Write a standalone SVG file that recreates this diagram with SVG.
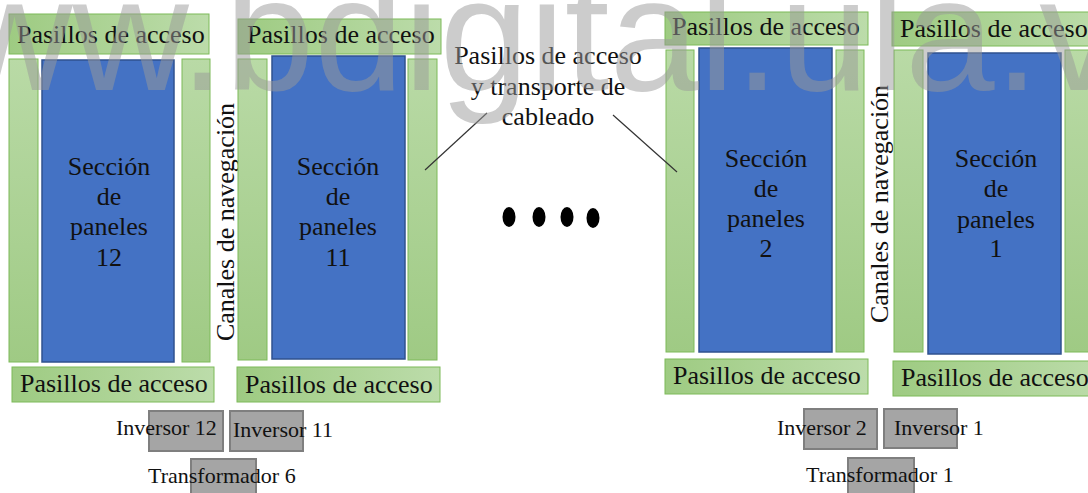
<svg xmlns="http://www.w3.org/2000/svg" width="1088" height="493" viewBox="0 0 1088 493">
<style>
.t{font-family:"Liberation Serif","Times New Roman",serif;font-size:26px;fill:#111}
.s{font-family:"Liberation Serif","Times New Roman",serif;font-size:22px;fill:#111}
.box{fill:url(#gh);stroke:#7dba58;stroke-width:1}
.strip{fill:url(#gv);stroke:#7dba58;stroke-width:1}
.panel{fill:#4472c4;stroke:#2f528f;stroke-width:1.5}
.inv{fill:#a5a5a5;stroke:#7f7f7f;stroke-width:2}
.ln{stroke:#333;stroke-width:1.2;fill:none}
.wm{font-family:"Liberation Sans",Arial,sans-serif;font-size:161px;fill:#9a9a9a;opacity:0.5}
</style>
<defs>
<linearGradient id="gh" x1="0" y1="0" x2="1" y2="0">
<stop offset="0" stop-color="#9ecb82"/>
<stop offset="1" stop-color="#bcdcaa"/>
</linearGradient>
<linearGradient id="gv" x1="0" y1="0" x2="0" y2="1">
<stop offset="0" stop-color="#b9daa6"/>
<stop offset="1" stop-color="#9fca84"/>
</linearGradient>
</defs>

<g id="seccion12">
<rect class="box" x="9" y="14" width="200" height="40"/>
<text class="t" x="17" y="43">Pasillos de acceso</text>
<rect class="strip" x="9" y="59" width="29" height="303"/>
<rect class="panel" x="42" y="60" width="132" height="302"/>
<rect class="strip" x="182" y="59" width="28" height="303"/>
<text class="t" text-anchor="middle"><tspan x="109" y="175">Sección</tspan><tspan x="109" y="205">de</tspan><tspan x="109" y="235">paneles</tspan><tspan x="109" y="266">12</tspan></text>
<rect class="box" x="12" y="367" width="202" height="35"/>
<text class="t" x="20" y="392">Pasillos de acceso</text>
</g>

<g id="canal1">
<text class="t" text-anchor="middle" transform="translate(234,222) rotate(-90)">Canales de navegación</text>
</g>

<g id="seccion11">
<rect class="box" x="238" y="19" width="203" height="35"/>
<text class="t" x="247" y="43">Pasillos de acceso</text>
<rect class="strip" x="238" y="59" width="29" height="301"/>
<rect class="panel" x="272" y="56" width="133" height="303"/>
<rect class="strip" x="408" y="59" width="29" height="301"/>
<text class="t" text-anchor="middle"><tspan x="338" y="175">Sección</tspan><tspan x="338" y="205">de</tspan><tspan x="338" y="235">paneles</tspan><tspan x="338" y="266">11</tspan></text>
<rect class="box" x="237" y="367" width="203" height="35"/>
<text class="t" x="245" y="393">Pasillos de acceso</text>
</g>

<g id="pasillos-centro">
<text class="t" text-anchor="middle"><tspan x="548" y="64">Pasillos de acceso</tspan><tspan x="548" y="95">y transporte de</tspan><tspan x="548" y="125">cableado</tspan></text>
</g>

<g id="puntos">
<ellipse cx="509" cy="217" rx="6.5" ry="10" fill="#000"/>
<ellipse cx="539" cy="217" rx="6.5" ry="10" fill="#000"/>
<ellipse cx="567" cy="217" rx="6.5" ry="10" fill="#000"/>
<ellipse cx="593" cy="218" rx="6.5" ry="10" fill="#000"/>
</g>

<g id="seccion2">
<rect class="box" x="665" y="12" width="203" height="33"/>
<text class="t" x="672" y="35">Pasillos de acceso</text>
<rect class="strip" x="666" y="50" width="28" height="302"/>
<rect class="panel" x="699" y="48" width="133" height="304"/>
<rect class="strip" x="836" y="50" width="28" height="302"/>
<text class="t" text-anchor="middle"><tspan x="766" y="167">Sección</tspan><tspan x="766" y="197">de</tspan><tspan x="766" y="227">paneles</tspan><tspan x="766" y="257">2</tspan></text>
<rect class="box" x="665" y="359" width="203" height="35"/>
<text class="t" x="673" y="384">Pasillos de acceso</text>
</g>

<g id="canal2">
<text class="t" text-anchor="middle" transform="translate(888,204) rotate(-90)">Canales de navegación</text>
</g>

<g id="seccion1">
<rect class="box" x="892" y="12" width="210" height="34"/>
<text class="t" x="900" y="37">Pasillos de acceso</text>
<rect class="strip" x="894" y="50" width="29" height="302"/>
<rect class="panel" x="928" y="53" width="133" height="301"/>
<rect class="strip" x="1065" y="50" width="29" height="302"/>
<text class="t" text-anchor="middle"><tspan x="996" y="167">Sección</tspan><tspan x="996" y="197">de</tspan><tspan x="996" y="228">paneles</tspan><tspan x="996" y="257">1</tspan></text>
<rect class="box" x="893" y="361" width="210" height="35"/>
<text class="t" x="901" y="386">Pasillos de acceso</text>
</g>

<g id="inversor12">
<rect class="inv" x="149" y="411" width="74" height="40"/>
<text class="s" x="116" y="435">Inversor 12</text>
</g>
<g id="inversor11">
<rect class="inv" x="230" y="411" width="73" height="40"/>
<text class="s" x="233" y="437">Inversor 11</text>
</g>
<g id="transformador6">
<rect class="inv" x="191" y="459" width="65" height="40"/>
<text class="s" x="148" y="483">Transformador 6</text>
</g>
<g id="inversor2">
<rect class="inv" x="804" y="409" width="73" height="40"/>
<text class="s" x="777" y="435">Inversor 2</text>
</g>
<g id="inversor1">
<rect class="inv" x="884" y="409" width="73" height="39"/>
<text class="s" x="894" y="435">Inversor 1</text>
</g>
<g id="transformador1">
<rect class="inv" x="848" y="458" width="66" height="40"/>
<text class="s" x="806" y="482">Transformador 1</text>
</g>

<g id="connectors">
<line class="ln" x1="487" y1="113" x2="425" y2="170"/>
<line class="ln" x1="613" y1="115" x2="677" y2="172"/>
</g>

<text class="wm" x="-160" y="90">www.bdigital.ula.ve</text>
</svg>
